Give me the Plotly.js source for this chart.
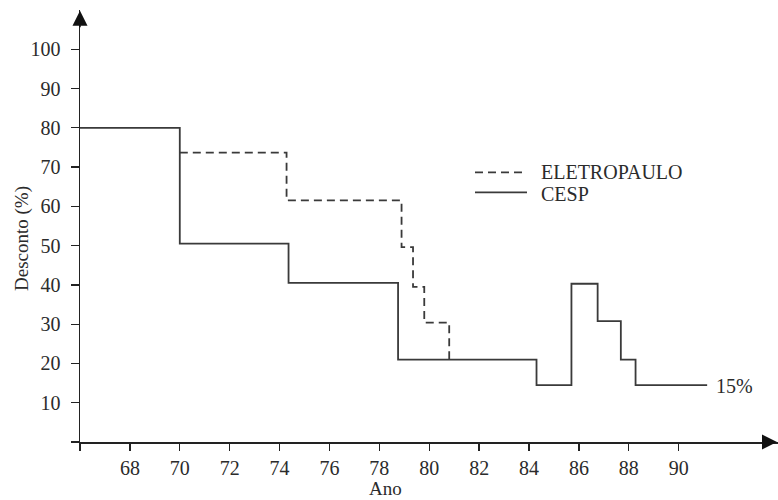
<!DOCTYPE html>
<html>
<head>
<meta charset="utf-8">
<script src="https://cdn.plot.ly/plotly-3.0.1.min.js"></script>
<style>
  html, body { margin: 0; padding: 0; background: #ffffff; }
  #chart { width: 778px; height: 500px; }
</style>
</head>
<body>
<div id="chart"></div>
<script>
// ---- data ----
const seriesNames = ['ELETROPAULO', 'CESP'];

// Step change points (year, discount %) — 'hv' steps
const cespYears    = [66, 70, 74.36, 78.75, 84.30, 85.70, 86.75, 87.68, 88.27, 91.14];
const cespDiscount = [80, 50.5, 40.5, 21, 14.5, 40.3, 30.8, 21, 14.5, 14.5];

const eletroYears    = [70, 74.28, 78.89, 79.35, 79.80, 80.80];
const eletroDiscount = [73.7, 61.5, 49.6, 39.5, 30.4, 21];

const xTickVals   = [66, 68, 70, 72, 74, 76, 78, 80, 82, 84, 86, 88, 90];
const xTickLabels = ['', '68', '70', '72', '74', '76', '78', '80', '82', '84', '86', '88', '90'];
const yTickVals   = [0, 10, 20, 30, 40, 50, 60, 70, 80, 90, 100];
const yTickLabels = ['', '10', '20', '30', '40', '50', '60', '70', '80', '90', '100'];

const endLabel = '15%';
const xTitle = 'Ano';
const yTitle = 'Desconto (%)';

// ---- styling ----
const FONT = 'Liberation Serif, "DejaVu Serif", serif';
const TXT = '#2b2b2b';
const LINE = '#3a3a3a';
const AX = '#222222';

const traces = [
  {
    x: eletroYears, y: eletroDiscount, name: seriesNames[0],
    type: 'scatter', mode: 'lines',
    line: { shape: 'hv', color: LINE, width: 1.8, dash: '8px,5px' },
    showlegend: false, hoverinfo: 'skip'
  },
  {
    x: cespYears, y: cespDiscount, name: seriesNames[1],
    type: 'scatter', mode: 'lines',
    line: { shape: 'hv', color: LINE, width: 1.8 },
    showlegend: false, hoverinfo: 'skip'
  }
];

const lastX = cespYears[cespYears.length - 1];
const lastY = cespDiscount[cespDiscount.length - 1];

// legend position (paper coords)
const legX0 = 0.5659, legXd = 0.6332, legXs = 0.6404, legTextX = 0.6580;
const legY1 = 0.6243, legY2 = 0.5780;

const layout = {
  width: 778, height: 500,
  margin: { l: 80, r: 0, t: 10, b: 58, pad: 0 },
  paper_bgcolor: '#ffffff', plot_bgcolor: '#ffffff',
  font: { family: FONT, size: 20, color: TXT },
  showlegend: false,
  xaxis: {
    range: [66, 93.98],
    tickmode: 'array', tickvals: xTickVals, ticktext: xTickLabels,
    ticks: 'outside', ticklen: 7, tickwidth: 1.3, tickcolor: AX,
    ticklabelstandoff: 0,
    showline: true, linecolor: AX, linewidth: 1.5,
    showgrid: false, zeroline: false,
    tickfont: { family: FONT, size: 20, color: TXT },
    fixedrange: true
  },
  yaxis: {
    range: [0, 110],
    tickmode: 'array', tickvals: yTickVals, ticktext: yTickLabels,
    ticks: 'outside', ticklen: 8, tickwidth: 1.3, tickcolor: AX,
    ticklabelstandoff: 6,
    showline: true, linecolor: AX, linewidth: 1.5,
    showgrid: false, zeroline: false,
    tickfont: { family: FONT, size: 20, color: TXT },
    fixedrange: true
  },
  shapes: [
    { type: 'line', xref: 'paper', yref: 'paper', x0: legX0, x1: legXd, y0: legY1, y1: legY1,
      line: { color: LINE, width: 1.8, dash: '8px,5px' } },
    { type: 'line', xref: 'paper', yref: 'paper', x0: legX0, x1: legXs, y0: legY2, y1: legY2,
      line: { color: LINE, width: 1.8 } }
  ],
  annotations: [
    // axis arrowheads
    { xref: 'paper', yref: 'y', x: 0, y: 109.8, ax: 0, ay: 18, axref: 'pixel', ayref: 'pixel',
      showarrow: true, arrowhead: 2, arrowsize: 2, arrowwidth: 1.5, arrowcolor: '#111', text: '' },
    { xref: 'paper', yref: 'y', x: 1.01, y: 0, ax: -18, ay: 0, axref: 'pixel', ayref: 'pixel',
      showarrow: true, arrowhead: 2, arrowsize: 2, arrowwidth: 1.5, arrowcolor: '#111', text: '' },
    // axis titles
    { xref: 'paper', yref: 'paper', x: 0.438, y: -0.108, text: xTitle, showarrow: false,
      xanchor: 'center', yanchor: 'middle', font: { family: FONT, size: 19, color: TXT } },
    { xref: 'paper', yref: 'paper', x: -0.083, y: 0.47, text: yTitle, showarrow: false, textangle: -90,
      xanchor: 'center', yanchor: 'middle', font: { family: FONT, size: 19, color: TXT } },
    // end label
    { xref: 'x', yref: 'y', x: lastX, y: lastY, text: endLabel, showarrow: false,
      xanchor: 'left', yanchor: 'middle', xshift: 7, yshift: -1, font: { family: FONT, size: 20, color: TXT } },
    // legend text
    { xref: 'paper', yref: 'paper', x: legTextX, y: legY1, text: seriesNames[0], showarrow: false,
      xanchor: 'left', yanchor: 'middle', font: { family: FONT, size: 20, color: TXT } },
    { xref: 'paper', yref: 'paper', x: legTextX, y: legY2 - 0.004, text: seriesNames[1], showarrow: false,
      xanchor: 'left', yanchor: 'middle', font: { family: FONT, size: 20, color: TXT } }
  ]
};

Plotly.newPlot('chart', traces, layout, { staticPlot: true, displayModeBar: false });
</script>
</body>
</html>
